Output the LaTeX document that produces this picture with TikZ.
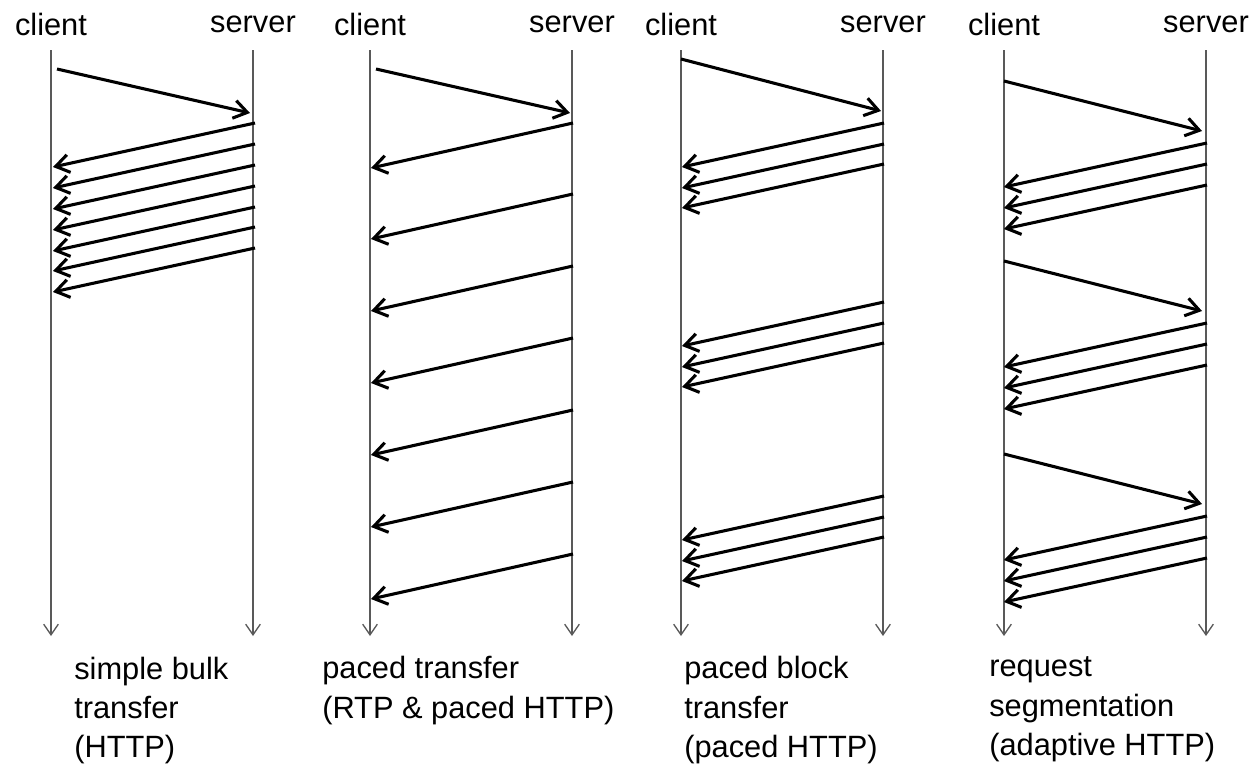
\documentclass[tikz,border=0pt]{standalone}
\usepackage{fontspec}
\setmainfont{Liberation Sans}
\usetikzlibrary{arrows.meta,calc}

% a message between two lifelines: start lifeline, x offset, y, end lifeline, x offset, y
\newcommand\msgline[6]{\draw[msg] ($(#1 |- 0,#3)+(#2,0)$) -- ($(#4 |- 0,#6)+(#5,0)$);}

\begin{document}
\begin{tikzpicture}[x=0.75pt,y=-0.75pt,
  lifeline/.style={draw=black!65, line width=1pt,
    -{Straight Barb[length=8pt,width=11pt]}},
  msg/.style={line width=2.3pt, -{Straight Barb[length=10pt,width=13.5pt]}},
  role/.style={font=\fontsize{23.1}{28}\selectfont, anchor=base, inner sep=0pt},
  caption/.style={font=\fontsize{23.1}{28}\selectfont, anchor=base west, inner sep=0pt}]

\useasboundingbox (0,0) rectangle (1254,765);

% lifelines and their labels
\foreach \i/\cx/\sx in {1/51/253, 2/370/572, 3/681/883, 4/1004/1206} {
  \coordinate (C\i) at (\cx,50);
  \coordinate (S\i) at (\sx,50);
  \coordinate (C\i e) at (\cx,636);
  \coordinate (S\i e) at (\sx,636);
  \draw[lifeline] (C\i) -- (C\i e);
  \draw[lifeline] (S\i) -- (S\i e);
  \node[role] (client\i) at (\cx,35) {client};
  \node[role] (server\i) at (\sx,32.5) {server};
}

% simple bulk transfer
\msgline{C1}{6}{69}{S1}{-3}{113}
\foreach \y in {123,144,165,186,207,227,248} {\msgline{S1}{2}{\y}{C1}{2}{\y+44}}

% paced transfer
\msgline{C2}{6}{69}{S2}{-2}{113}
\foreach \y in {123,194,266,338,410,482,554} {\msgline{S2}{1}{\y}{C2}{1}{\y+45}}

% paced block transfer
\msgline{C3}{0}{59}{S3}{-2}{111}
\foreach \b in {123,302,496} {
  \foreach \d in {0,21,41} {\msgline{S3}{1}{\b+\d}{C3}{1}{\b+\d+44}}
}

% request segmentation
\foreach \r in {81,261,454} {
  \msgline{C4}{0}{\r}{S4}{-4}{\r+50}
  \foreach \d in {62,83,104} {\msgline{S4}{1}{\r+\d}{C4}{0}{\r+\d+44}}
}

% captions
\node[caption] (cap1a) at (74,679) {simple bulk};
\node[caption] (cap1b) at (74,718) {transfer};
\node[caption] (cap1c) at (74,757) {(HTTP)};

\node[caption] (cap2a) at (322,678) {paced transfer};
\node[caption] (cap2b) at (322,718) {(RTP \& paced HTTP)};

\node[caption] (cap3a) at (684,678) {paced block};
\node[caption] (cap3b) at (684,718) {transfer};
\node[caption] (cap3c) at (684,757) {(paced HTTP)};

\node[caption] (cap4a) at (989,676) {request};
\node[caption] (cap4b) at (989,716) {segmentation};
\node[caption] (cap4c) at (989,755) {(adaptive HTTP)};

\end{tikzpicture}
\end{document}
